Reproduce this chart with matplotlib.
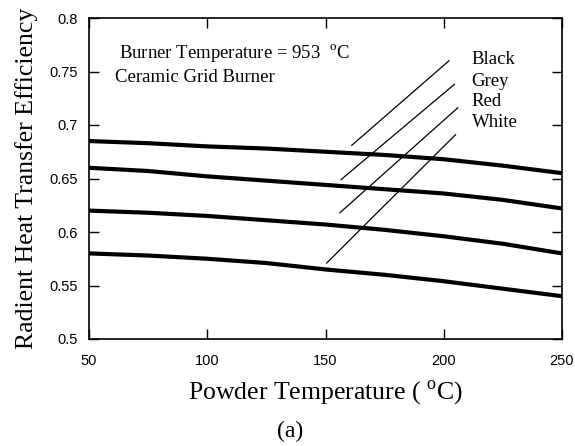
import numpy as np
import matplotlib
matplotlib.use("Agg")
import matplotlib.pyplot as plt

# powder temperature (C)
temps = [50, 75, 100, 125, 150, 175, 200, 225, 250]

# radiant heat transfer efficiency per powder colour
black = [0.685, 0.683, 0.680, 0.678, 0.675, 0.672, 0.668, 0.662, 0.655]
grey = [0.660, 0.657, 0.652, 0.648, 0.644, 0.640, 0.636, 0.630, 0.622]
red = [0.620, 0.618, 0.615, 0.611, 0.607, 0.602, 0.596, 0.589, 0.580]
white = [0.580, 0.578, 0.575, 0.571, 0.565, 0.560, 0.554, 0.547, 0.540]

labels = ["Black", "Grey", "Red", "White"]
# leader lines: (x0, y0, x1, y1)
leaders = [(161.1, 0.681, 202.2, 0.760),
           (156.6, 0.649, 204.5, 0.738),
           (156.1, 0.618, 205.9, 0.716),
           (150.5, 0.571, 205.0, 0.691)]
label_y = [0.761, 0.741, 0.722, 0.702]

serif = "Liberation Serif"
sans = "Liberation Sans"
plt.rcParams["mathtext.fontset"] = "custom"
plt.rcParams["mathtext.rm"] = serif

fig = plt.figure(figsize=(5.75, 4.46), dpi=100)
ax = fig.add_axes([89 / 575, 1 - 339 / 446, (562 - 89) / 575, (339 - 18) / 446])

for series in (black, grey, red, white):
    ax.plot(temps, series, color="black", lw=3.0, solid_capstyle="round")

for (x0, y0, x1, y1), lab, ly in zip(leaders, labels, label_y):
    ax.plot([x0, x1], [y0, y1], color="black", lw=0.9)
    ax.text(211.8, ly, lab, family=serif, fontsize=13.5, va="center", ha="left")

ax.text(62.7, 0.767, "Burner Temperature = 953  $^{\\mathrm{o}}$C", family=serif,
        fontsize=13.5, va="center", ha="left")
ax.text(61, 0.744, "Ceramic Grid Burner", family=serif, fontsize=13.5,
        va="center", ha="left")

ax.set_xlim(50, 250)
ax.set_ylim(0.5, 0.8)
ax.set_xticks([50, 100, 150, 200, 250])
ax.set_yticks([0.5, 0.55, 0.6, 0.65, 0.7, 0.75, 0.8])
ax.set_yticklabels(["0.5", "0.55", "0.6", "0.65", "0.7", "0.75", "0.8"])
ax.tick_params(direction="in", length=7, width=1, top=True, right=True,
               labelsize=10.5, pad=8)
ax.tick_params(axis="x", pad=11)
for lab in ax.get_xticklabels() + ax.get_yticklabels():
    lab.set_family(sans)
for sp in ax.spines.values():
    sp.set_linewidth(1.2)

ax.set_xlabel("Powder Temperature ( $^{\\mathrm{o}}$C)", family=serif, fontsize=18.5, labelpad=7)
ax.set_ylabel("Radient Heat Transfer Efficiency", family=serif, fontsize=18.5, labelpad=8)
fig.text(290 / 575, 1 - 431 / 446, "(a)", family=serif, fontsize=17, ha="center", va="center")

fig.savefig("out.png", dpi=100)
